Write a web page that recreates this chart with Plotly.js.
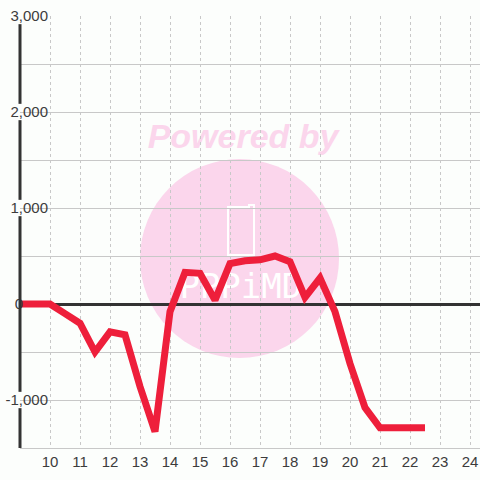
<!DOCTYPE html>
<html>
<head>
<meta charset="utf-8">
<script src="https://cdn.plot.ly/plotly-3.0.1.min.js"></script>
<style>html,body{margin:0;padding:0;background:#fcfefc;}#chart{width:480px;height:480px;}</style>
</head>
<body>
<div id="chart"></div>
<script>
// Hours (x) and values (y)
const hours = [9, 9.5, 10, 10.5, 11, 11.5, 12, 12.5, 13, 13.5, 14, 14.5, 15, 15.5,
               16, 16.5, 17, 17.5, 18, 18.5, 19, 19.5, 20, 20.5, 21, 21.5, 22, 22.5];
const values = [0, 0, 0, -100, -200, -500, -290, -320, -860, -1330, -80, 330, 320, 40,
                420, 450, 460, 500, 440, 70, 270, -80, -620, -1080, -1290, -1290, -1290, -1290];

const xTickVals = [10, 11, 12, 13, 14, 15, 16, 17, 18, 19, 20, 21, 22, 23, 24];
const xTickText = ['10', '11', '12', '13', '14', '15', '16', '17', '18', '19', '20', '21', '22', '23', '24'];
const yTickVals = [-1000, 0, 1000, 2000, 3000];
const yTickText = ['-1,000', '0\u00a0\u00a0\u00a0\u00a0\u00a0\u00a0', '1,000', '2,000', '3,000'];
const watermarkText = 'Powered by';
const logoText = 'PPPiMD';

const pink = '#fbd6ec';
const tickFont = {family: 'Liberation Sans, Arial, sans-serif', size: 15, color: '#3c3c3c'};
const yMin = -1500, yMax = 3000;

// y axis line drawn in pieces, leaving gaps where the wide tick labels sit
const gap = 85;
const cuts = yTickVals.filter(v => v !== 0).sort((a, b) => a - b);
const axisShapes = [];
let start = yMin;
cuts.forEach(v => {
  if (v - gap > start) axisShapes.push([start, v - gap]);
  start = v + gap;
});
if (start < yMax) axisShapes.push([start, yMax]);

const trace = {
  x: hours, y: values, type: 'scatter', mode: 'lines',
  line: {color: '#ee1f3b', width: 7},
  hoverinfo: 'skip'
};

const shapes = [
  {type: 'circle', xref: 'paper', yref: 'paper', layer: 'below',
   x0: 0.2609, x1: 0.6935, y0: 0.2083, y1: 0.669,
   fillcolor: pink, line: {width: 0}},
  {type: 'path', xref: 'paper', yref: 'paper', layer: 'below',
   path: 'M 0.4522,0.4468 L 0.5087,0.4468 L 0.5087,0.5625 L 0.4978,0.5625 L 0.4978,0.5579 L 0.4522,0.5579 Z',
   fillcolor: 'rgba(0,0,0,0)', line: {color: '#ffffff', width: 2}},
  {type: 'rect', xref: 'paper', yref: 'paper', layer: 'below',
   x0: 0.35, x1: 0.61, y0: 0.34, y1: 0.42,
   fillcolor: 'rgba(0,0,0,0)', line: {width: 0},
   label: {text: logoText, textposition: 'middle center',
           font: {family: 'DejaVu Sans Mono, monospace', size: 34, color: '#ffffff'}}},
  {type: 'rect', xref: 'paper', yref: 'paper', layer: 'below',
   x0: 0.26, x1: 0.71, y0: 0.70, y1: 0.76,
   fillcolor: 'rgba(0,0,0,0)', line: {width: 0},
   label: {text: watermarkText, textposition: 'middle center',
           font: {family: 'Liberation Sans, Arial, sans-serif', size: 34, color: pink, weight: 'bold', style: 'italic'}}}
];
axisShapes.forEach(seg => shapes.push({
  type: 'line', xref: 'paper', yref: 'y', layer: 'above',
  x0: 0, x1: 0, y0: seg[0], y1: seg[1],
  line: {color: '#333', width: 3}
}));

const layout = {
  width: 480, height: 480,
  margin: {l: 20, r: 0, t: 16, b: 32},
  paper_bgcolor: '#fcfefc', plot_bgcolor: '#fcfefc',
  showlegend: false,
  xaxis: {
    range: [9, 24.3333], tickmode: 'array', tickvals: xTickVals, ticktext: xTickText,
    showgrid: true, gridcolor: '#c8c8c8', gridwidth: 1, griddash: '3px,3px',
    zeroline: false, showline: true, linecolor: '#c8c8c8', linewidth: 1,
    ticks: '', tickfont: tickFont, fixedrange: true
  },
  yaxis: {
    range: [yMin, yMax], tickmode: 'array', tickvals: yTickVals, ticktext: yTickText,
    showgrid: true, gridcolor: '#c8c8c8', gridwidth: 1,
    minor: {tickmode: 'linear', tick0: 0, dtick: 500, showgrid: true, gridcolor: '#c8c8c8', gridwidth: 1, ticks: ''},
    zeroline: true, zerolinecolor: '#333', zerolinewidth: 3,
    showline: false,
    ticks: '', tickfont: tickFont, ticklabelstandoff: -29, fixedrange: true
  },
  shapes: shapes
};

Plotly.newPlot('chart', [trace], layout, {staticPlot: true, displayModeBar: false});
</script>
</body>
</html>
